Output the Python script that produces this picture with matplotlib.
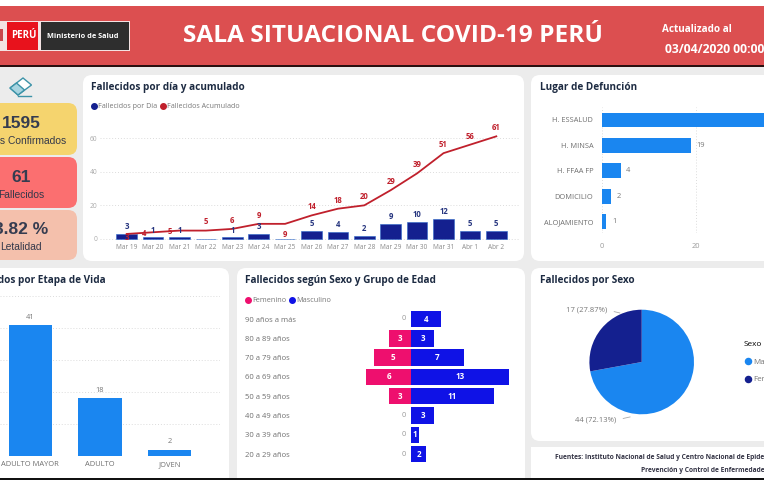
import numpy as np
import matplotlib
matplotlib.use('Agg')
import matplotlib.pyplot as plt
from matplotlib.lines import Line2D
from matplotlib.patches import FancyBboxPatch, Rectangle, Polygon

plt.rcParams['font.family'] = ['Open Sans', 'DejaVu Sans']

W, H = 764, 480

days = ['Mar 19', 'Mar 20', 'Mar 21', 'Mar 22', 'Mar 23', 'Mar 24', 'Mar 25', 'Mar 26',
        'Mar 27', 'Mar 28', 'Mar 29', 'Mar 30', 'Mar 31', 'Abr 1', 'Abr 2']
deaths_day = [3, 1, 1, 0, 1, 3, 0, 5, 4, 2, 9, 10, 12, 5, 5]
deaths_total = [3, 4, 5, 5, 6, 9, 9, 14, 18, 20, 29, 39, 51, 56, 61]

places = ['H. ESSALUD', 'H. MINSA', 'H. FFAA FP', 'DOMICILIO', 'ALOJAMIENTO']
place_values = [35, 19, 4, 2, 1]

stages = ['ADULTO MAYOR', 'ADULTO', 'JOVEN']
stage_values = [41, 18, 2]

age_groups = ['90 años a más', '80 a 89 años', '70 a 79 años', '60 a 69 años',
              '50 a 59 años', '40 a 49 años', '30 a 39 años', '20 a 29 años']
female = [0, 3, 5, 6, 3, 0, 0, 0]
male = [4, 3, 7, 13, 11, 3, 1, 2]

sex_labels = ['Masculino', 'Femenino']
sex_values = [44, 17]
sex_text = ['44 (72.13%)', '17 (27.87%)']

BG = '#ececec'
RED = '#dc4f50'
NAVY = '#14208f'
DARKRED = '#c0202c'
BLUE = '#1a86f0'
PINK = '#ee0f6e'
MALE_BLUE = '#0f12e6'
TITLE = '#1d2b42'
GRID = '#dcdcdc'


def px_axes(fig, x0, y0, x1, y1):
    # axes from pixel box, y measured from the top of the picture
    return fig.add_axes([x0 / W, 1 - y1 / H, (x1 - x0) / W, (y1 - y0) / H])


def clean(ax):
    ax.patch.set_alpha(0)
    for s in ax.spines.values():
        s.set_visible(False)
    ax.tick_params(length=0)


def card(bg, x0, y0, x1, y1, color, r=9):
    bg.add_patch(FancyBboxPatch((x0 + r, y0 + r), x1 - x0 - 2 * r, y1 - y0 - 2 * r,
                                boxstyle=f'round,pad={r},rounding_size={r}',
                                fc=color, ec='none'))


fig = plt.figure(figsize=(W / 100, H / 100), dpi=100, facecolor=BG)
bg = fig.add_axes([0, 0, 1, 1])
bg.set_xlim(0, W)
bg.set_ylim(H, 0)
bg.axis('off')

# header
bg.add_patch(Rectangle((0, 0), W, 6, fc='white', ec='none'))
bg.add_patch(Rectangle((0, 6), W, 59, fc=RED, ec='none'))
bg.add_patch(Rectangle((0, 65), W, 2, fc='#2a1010', ec='none'))
bg.add_patch(Rectangle((0, 21), 130, 30, fc='#f3e3e3', ec='none'))
bg.add_patch(Rectangle((7, 22), 31, 28, fc='#e8121c', ec='none'))
bg.add_patch(Rectangle((41, 22), 88, 28, fc='#2e2e2e', ec='none'))
bg.add_patch(Rectangle((0, 29), 2.5, 12, fc='#c9474b', ec='none'))
bg.text(23.5, 36, 'PERÚ', color='white', fontsize=7, fontweight='bold', ha='center', va='center')
bg.text(83, 36.5, 'Ministerio de Salud', color='white', fontsize=5.3, fontweight='bold', ha='center', va='center')
bg.text(392.5, 36.5, 'SALA SITUACIONAL COVID-19 PERÚ', color='white', fontsize=17.6,
        fontweight='bold', ha='center', va='center')
bg.text(662, 29.5, 'Actualizado al', color='white', fontsize=7.1, fontweight='bold', va='center')
bg.text(665, 49.5, '03/04/2020 00:00:00', color='white', fontsize=8.7, fontweight='bold', va='center')

# panels
card(bg, 83, 75, 524, 261, 'white')
card(bg, 531, 75, 790, 261, 'white')
card(bg, -30, 268, 229, 500, 'white')
card(bg, 237, 268, 525, 500, 'white')
card(bg, 531, 268, 790, 441, 'white')
bg.add_patch(Rectangle((531, 447), 240, 40, fc='white', ec='none'))
bg.add_patch(Rectangle((0, 478), W, 2, fc='#111111', ec='none', zorder=5))

# kpi cards
card(bg, -30, 103, 77, 155, '#f5d46e')
card(bg, -30, 157, 77, 208, '#fb6f70')
card(bg, -30, 210, 77, 260, '#f4c0ac')
kpis = [('1595', 'Casos Confirmados', 123.5, 141), ('61', 'Fallecidos', 177, 194.5), ('3.82 %', 'Letalidad', 230, 247.5)]
for big, small, y1, y2 in kpis:
    bg.text(21, y1, big, color='#353c50', fontsize=12.5, fontweight='bold', family='Liberation Sans',
            ha='center', va='center')
    bg.text(21, y2, small, color='#33384a', fontsize=7.4, family='Liberation Sans', ha='center', va='center')

# eraser icon
bg.add_patch(Polygon([(10, 88), (23, 78), (31.5, 85), (18, 95)], fc='white', ec='#3c93a8', lw=1))
bg.add_patch(Polygon([(10, 88), (16.5, 83), (24.5, 90), (18, 95)], fc='#a7d4e0', ec='#3c93a8', lw=1))
bg.plot([18, 31], [95.5, 95.5], color='#3c93a8', lw=1)

# panel titles
for x, y, txt, ha in [(91, 87.5, 'Fallecidos por día y acumulado', 'left'),
                      (540, 87.5, 'Lugar de Defunción', 'left'),
                      (105.5, 281, 'Fallecidos por Etapa de Vida', 'right'),
                      (245, 281, 'Fallecidos según Sexo y Grupo de Edad', 'left'),
                      (540, 281, 'Fallecidos por Sexo', 'left')]:
    bg.text(x, y, txt, color=TITLE, fontsize=7.2, fontweight='bold', ha=ha, va='center')

# deaths per day and cumulative
ax = px_axes(fig, 100, 125, 520, 245)
clean(ax)
xs = np.arange(len(days))
ax.bar(xs, deaths_day, width=0.78, color=NAVY, edgecolor='#2a66c8', linewidth=0.4, label='Fallecidos por Día')
ax.plot(xs, deaths_total, color=DARKRED, lw=1.3, label='Fallecidos Acumulado')
ax.set_xlim((100 - 126.7) / 26.4, (520 - 126.7) / 26.4)
ax.set_ylim(-6 / 1.683, 114 / 1.683)
ax.set_yticks([0, 20, 40, 60])
ax.set_xticks(xs)
ax.set_xticklabels(days)
ax.tick_params(axis='x', labelsize=4.7, labelcolor='#8a8a8a', pad=-0.5)
ax.tick_params(axis='y', labelsize=4.8, labelcolor='#aaaaaa', pad=2)
ax.grid(axis='y', color=GRID, lw=0.7, ls=(0, (1, 2)))
ax.set_axisbelow(True)
for i, v in enumerate(deaths_day):
    if v > 0:
        ax.annotate(str(v), (i, v), xytext=(0, 2), textcoords='offset points', ha='center', va='bottom',
                    fontsize=5.6, color='#26357f', fontweight='bold')
# a few cumulative labels sit off their point in the original
shifted = {0: (0, -6), 1: (-6.5, -4), 2: (-7, -4), 6: (0, -11)}
for i, v in enumerate(deaths_total):
    ax.annotate(str(v), (i, v), xytext=shifted.get(i, (0, 3)), textcoords='offset points', ha='center', va='bottom',
                fontsize=5.6, color=DARKRED, fontweight='bold')
ax.legend(handles=[Line2D([], [], marker='o', ls='', color=NAVY, ms=4, label='Fallecidos por Día'),
                   Line2D([], [], marker='o', ls='', color=DARKRED, ms=4, label='Fallecidos Acumulado')],
          ncol=2, frameon=False, fontsize=5.1, labelcolor='#777777', handlelength=1, handletextpad=0.1,
          columnspacing=0.3, loc='center left', bbox_to_anchor=(90.5 / W, 1 - 107 / H),
          bbox_transform=fig.transFigure, borderpad=0, borderaxespad=0)

# place of death
ax = px_axes(fig, 601.7, 107, 790, 233)
clean(ax)
ys = np.arange(len(places))
ax.barh(ys, place_values, height=0.59, color=BLUE)
ax.set_xlim(0, (790 - 601.7) / 4.7)
ax.set_ylim((233 - 120) / 25.4, (107 - 120) / 25.4)
ax.set_yticks(ys)
ax.set_yticklabels(places)
ax.set_xticks([0, 20])
ax.tick_params(axis='both', labelsize=5.3, labelcolor='#6f6f6f')
ax.tick_params(axis='y', pad=6)
ax.tick_params(axis='x', pad=7.5, labelcolor='#9a9a9a')
ax.grid(axis='x', color=GRID, lw=0.7, ls=(0, (1, 2)))
ax.set_axisbelow(True)
for i, v in enumerate(place_values):
    if v < 30:
        ax.annotate(str(v), (v, i), xytext=(4, 0), textcoords='offset points', va='center',
                    fontsize=5.4, color='#777777')

# life stage
ax = px_axes(fig, 0, 296, 220, 456)
clean(ax)
xs = np.arange(len(stages))
ax.bar(xs, stage_values, width=0.62, color=BLUE)
ax.set_xlim(-30.3 / 69.7, (220 - 30.3) / 69.7)
ax.set_ylim(0, 50)
ax.set_yticks([0, 10, 20, 30, 40, 50])
ax.set_yticklabels([])
ax.set_xticks(xs)
ax.set_xticklabels(stages)
ax.tick_params(axis='x', labelsize=5.4, labelcolor='#6f6f6f', pad=3.5)
ax.grid(axis='y', color=GRID, lw=0.7, ls=(0, (1, 2)))
ax.set_axisbelow(True)
for i, v in enumerate(stage_values):
    ax.annotate(str(v), (i, v), xytext=(0, 3), textcoords='offset points', ha='center', va='bottom',
                fontsize=5.4, color='#777777')

# sex and age pyramid
ax = px_axes(fig, 245, 309.4, 525, 464)
clean(ax)
ys = np.arange(len(age_groups))
ax.barh(ys, [-v for v in female], height=0.86, color=PINK)
ax.barh(ys, male, height=0.86, color=MALE_BLUE)
ax.set_xlim((245 - 411.3) / 7.5, (525 - 411.3) / 7.5)
ax.set_ylim((464 - 319) / 19.3, (309.4 - 319) / 19.3)
ax.set_yticks(ys)
ax.set_yticklabels(age_groups, ha='left')
ax.tick_params(axis='y', labelsize=5.5, labelcolor='#6f6f6f', pad=0)
ax.set_xticks([])
for i in ys:
    ax.text(male[i] / 2, i, str(male[i]), color='white', fontsize=5.8, fontweight='bold', ha='center', va='center')
    if female[i] > 0:
        ax.text(-female[i] / 2, i, str(female[i]), color='white', fontsize=5.8, fontweight='bold', ha='center', va='center')
    else:
        ax.annotate('0', (0, i), xytext=(-4, 0), textcoords='offset points', ha='right', va='center',
                    fontsize=5.4, color='#999999')
ax.legend(handles=[Line2D([], [], marker='o', ls='', color=PINK, ms=4, label='Femenino'),
                   Line2D([], [], marker='o', ls='', color=MALE_BLUE, ms=4, label='Masculino')],
          ncol=2, frameon=False, fontsize=5.2, labelcolor='#777777', handlelength=1, handletextpad=0.1,
          columnspacing=0.3, loc='center left', bbox_to_anchor=(244.5 / W, 1 - 300.5 / H),
          bbox_transform=fig.transFigure, borderpad=0, borderaxespad=0)

# deaths by sex
ax = px_axes(fig, 641.7 - 52.3, 362 - 52.3, 641.7 + 52.3, 362 + 52.3)
wedges, _ = ax.pie(sex_values, colors=[BLUE, NAVY], startangle=90, counterclock=False, radius=1,
                   wedgeprops={'linewidth': 0})
ax.set_xlim(-1, 1)
ax.set_ylim(-1, 1)
ax.annotate(sex_text[1], (-0.415, 0.937), xytext=(566, H - 310), textcoords='figure pixels', fontsize=5.5,
            color='#777777', va='center',
            arrowprops=dict(arrowstyle='-', color='#aaaaaa', lw=0.6, relpos=(1, 0.5), shrinkA=3, shrinkB=0),
            annotation_clip=False)
ax.annotate(sex_text[0], (-0.22, -1.05), xytext=(575, H - 420), textcoords='figure pixels', fontsize=5.5,
            color='#777777', va='center',
            arrowprops=dict(arrowstyle='-', color='#aaaaaa', lw=0.6, relpos=(1, 0.5), shrinkA=3, shrinkB=0),
            annotation_clip=False)
fig.legend(handles=[Line2D([], [], marker='o', ls='', color=c, ms=4.4, label=l) for c, l in zip([BLUE, NAVY], sex_labels)],
           title='Sexo', title_fontproperties={'size': 5.9}, alignment='left', frameon=False, fontsize=5.8,
           labelcolor='#777777', handlelength=1, handletextpad=0.1, labelspacing=1.25, loc='upper left',
           bbox_to_anchor=(744 / W, 1 - 341 / H), borderpad=0, borderaxespad=0)

# sources
bg.text(555, 457.5, 'Fuentes: Instituto Nacional de Salud y Centro Nacional de Epidemiología,', fontsize=4.75,
        fontweight='bold', color='#333344', va='center')
bg.text(641, 470, 'Prevención y Control de Enfermedades', fontsize=4.75, fontweight='bold', color='#333344', va='center')

fig.savefig('out.png', dpi=100, facecolor=fig.get_facecolor())
